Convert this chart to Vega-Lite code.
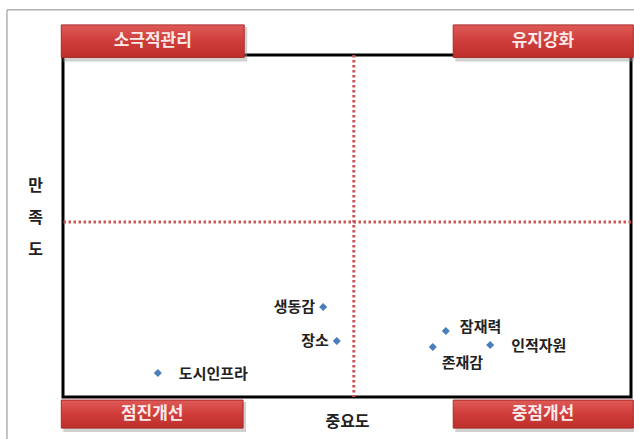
{
  "$schema": "https://vega.github.io/schema/vega-lite/v6.json",
  "width": 568,
  "height": 342,
  "autosize": {"type": "none"},
  "padding": {"left": 63, "top": 55, "right": 3, "bottom": 42},
  "background": "white",
  "config": {
    "view": {"stroke": "black", "strokeWidth": 3},
    "font": "Noto Sans CJK KR",
    "axis": {"labels": false, "ticks": false, "domain": false, "grid": false, "titleFontSize": 16, "titleFontWeight": "bold", "titleColor": "#222"},
    "axisX": {"titlePadding": 16},
    "axisY": {"titleAngle": 0, "titleLineHeight": 32, "titleX": -28, "titleY": 130, "titleAlign": "center", "titleBaseline": "middle"}
  },
  "datasets": {
    "points": [
      {"name": "생동감", "imp": 45.8, "sat": 26.3},
      {"name": "장소", "imp": 48.2, "sat": 16.4},
      {"name": "잠재력", "imp": 67.4, "sat": 19.3},
      {"name": "존재감", "imp": 65.1, "sat": 14.6},
      {"name": "인적자원", "imp": 75.2, "sat": 15.2},
      {"name": "도시인프라", "imp": 16.7, "sat": 7.0}
    ],
    "boxes": [
      {"label": "소극적관리", "x0": -0.3, "x1": 31.9, "y0": 108.8, "y1": 99.3, "xc": 15.8, "yc": 104.0},
      {"label": "유지강화", "x0": 68.7, "x1": 100.4, "y0": 108.8, "y1": 99.3, "xc": 84.5, "yc": 104.0},
      {"label": "점진개선", "x0": -0.3, "x1": 31.7, "y0": -0.9, "y1": -9.1, "xc": 15.7, "yc": -5.0},
      {"label": "중점개선", "x0": 68.7, "x1": 100.4, "y0": -0.9, "y1": -9.1, "xc": 84.5, "yc": -5.0}
    ],
    "frame": [{"x0": -9.86, "x1": 120, "y0": 113.2, "y1": -30}],
    "ref": [{"mx": 51.2, "my": 51.2}]
  },
  "layer": [
    {
      "data": {"name": "points"},
      "mark": {"type": "point", "shape": "diamond", "filled": true, "size": 65, "color": "#4a7ebb", "opacity": 1},
      "encoding": {
        "x": {"field": "imp", "type": "quantitative", "scale": {"domain": [0, 100], "nice": false, "zero": false}, "title": "중요도"},
        "y": {"field": "sat", "type": "quantitative", "scale": {"domain": [0, 100], "nice": false, "zero": false}, "title": ["만", "족", "도"]}
      }
    },
    {
      "data": {"name": "frame"},
      "mark": {"type": "rect", "filled": false, "stroke": "#8c8c8c", "strokeWidth": 1},
      "encoding": {
        "x": {"field": "x0", "type": "quantitative", "title": "중요도"},
        "x2": {"field": "x1"},
        "y": {"field": "y0", "type": "quantitative", "title": ["만", "족", "도"]},
        "y2": {"field": "y1"}
      }
    },
    {
      "data": {"name": "ref"},
      "mark": {"type": "rule", "color": "#cc5656", "strokeWidth": 3, "strokeDash": [2.5, 2.5]},
      "encoding": {
        "x": {"field": "mx", "type": "quantitative", "title": "중요도"}
      }
    },
    {
      "data": {"name": "ref"},
      "mark": {"type": "rule", "color": "#cc5656", "strokeWidth": 3, "strokeDash": [2.5, 2.5]},
      "encoding": {
        "y": {"field": "my", "type": "quantitative", "title": ["만", "족", "도"]}
      }
    },
    {
      "data": {"name": "boxes"},
      "mark": {"type": "rect", "fill": "#9a9a9a", "opacity": 0.45, "xOffset": 2, "x2Offset": 3, "yOffset": 2, "y2Offset": 4},
      "encoding": {
        "x": {"field": "x0", "type": "quantitative", "title": "중요도"},
        "x2": {"field": "x1"},
        "y": {"field": "y0", "type": "quantitative", "title": ["만", "족", "도"]},
        "y2": {"field": "y1"}
      }
    },
    {
      "data": {"name": "boxes"},
      "mark": {
        "type": "rect",
        "stroke": "#a82a28",
        "strokeWidth": 1,
        "fill": {
          "gradient": "linear", "x1": 0, "y1": 0, "x2": 0, "y2": 1,
          "stops": [
            {"offset": 0, "color": "#de5a57"},
            {"offset": 0.5, "color": "#cf3d3a"},
            {"offset": 1, "color": "#bd2f2c"}
          ]
        }
      },
      "encoding": {
        "x": {"field": "x0", "type": "quantitative", "title": "중요도"},
        "x2": {"field": "x1"},
        "y": {"field": "y0", "type": "quantitative", "title": ["만", "족", "도"]},
        "y2": {"field": "y1"}
      }
    },
    {
      "data": {"name": "boxes"},
      "mark": {"type": "text", "color": "#fbeaea", "fontSize": 17, "fontWeight": "bold", "align": "center", "baseline": "middle"},
      "encoding": {
        "x": {"field": "xc", "type": "quantitative", "title": "중요도"},
        "y": {"field": "yc", "type": "quantitative", "title": ["만", "족", "도"]},
        "text": {"field": "label"}
      }
    },
    {
      "data": {"name": "points"},
      "transform": [{"filter": "datum.name === '생동감' || datum.name === '장소'"}],
      "mark": {"type": "text", "align": "right", "baseline": "middle", "dx": -8, "fontSize": 15, "fontWeight": "bold", "color": "#222"},
      "encoding": {
        "x": {"field": "imp", "type": "quantitative", "title": "중요도"},
        "y": {"field": "sat", "type": "quantitative", "title": ["만", "족", "도"]},
        "text": {"field": "name"}
      }
    },
    {
      "data": {"name": "points"},
      "transform": [{"filter": "datum.name === '인적자원' || datum.name === '도시인프라'"}],
      "mark": {"type": "text", "align": "left", "baseline": "middle", "dx": 21, "dy": 1, "fontSize": 15, "fontWeight": "bold", "color": "#222"},
      "encoding": {
        "x": {"field": "imp", "type": "quantitative", "title": "중요도"},
        "y": {"field": "sat", "type": "quantitative", "title": ["만", "족", "도"]},
        "text": {"field": "name"}
      }
    },
    {
      "data": {"name": "points"},
      "transform": [{"filter": "datum.name === '잠재력'"}],
      "mark": {"type": "text", "align": "left", "baseline": "middle", "dx": 14, "dy": -4, "fontSize": 15, "fontWeight": "bold", "color": "#222"},
      "encoding": {
        "x": {"field": "imp", "type": "quantitative", "title": "중요도"},
        "y": {"field": "sat", "type": "quantitative", "title": ["만", "족", "도"]},
        "text": {"field": "name"}
      }
    },
    {
      "data": {"name": "points"},
      "transform": [{"filter": "datum.name === '존재감'"}],
      "mark": {"type": "text", "align": "left", "baseline": "middle", "dx": 9, "dy": 16, "fontSize": 15, "fontWeight": "bold", "color": "#222"},
      "encoding": {
        "x": {"field": "imp", "type": "quantitative", "title": "중요도"},
        "y": {"field": "sat", "type": "quantitative", "title": ["만", "족", "도"]},
        "text": {"field": "name"}
      }
    }
  ]
}
